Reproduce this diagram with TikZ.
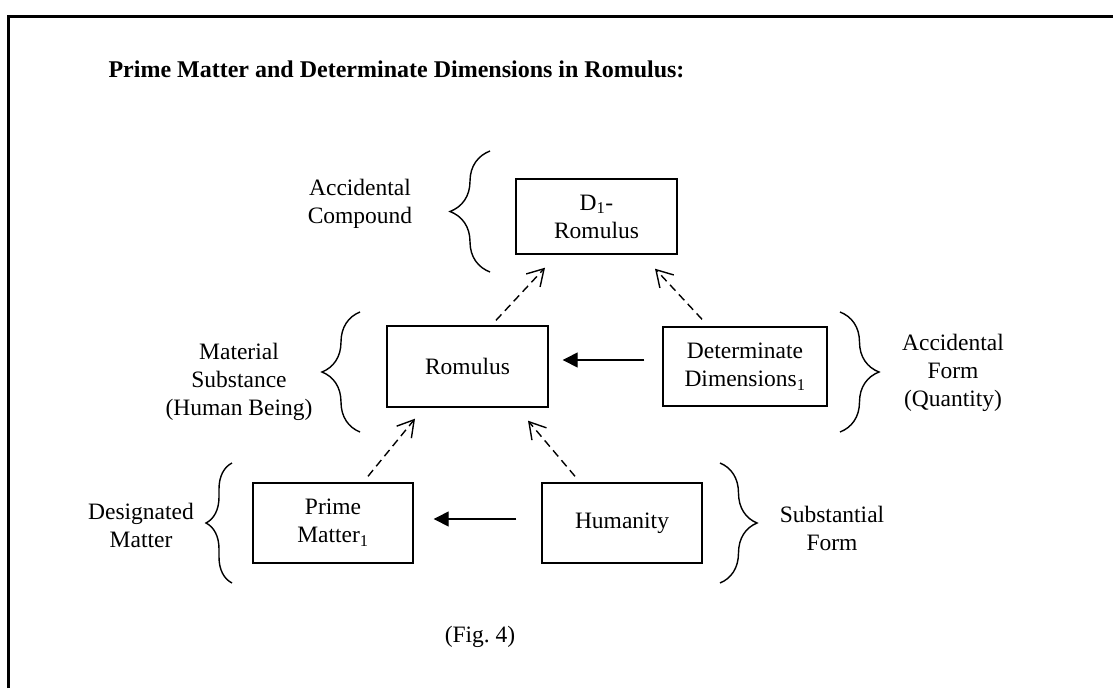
\documentclass[tikz,border=0pt]{standalone}
\usepackage{fontspec}
\setmainfont{Liberation Serif}
\usetikzlibrary{arrows.meta,positioning,decorations.pathreplacing}

\begin{document}
\begin{tikzpicture}[
  x=1pt,y=-1pt,
  every node/.style={font=\fontsize{23.5}{28}\selectfont},
  bnode/.style={draw,line width=1.4pt,minimum width=161pt,minimum height=80pt,
                align=center,inner sep=2pt},
  lnode/.style={align=center,inner sep=0pt},
  dasharrow/.style={-{Straight Barb[length=16pt,width=19pt,line width=1.4pt]},
                    line width=1.4pt,dash pattern=on 8pt off 5pt},
  solidarrow/.style={-{Triangle[length=15pt,width=15pt]},line width=1.4pt},
  cbrace/.style={decorate,decoration={brace,amplitude=#1},line width=1.4pt}
]
\useasboundingbox (0,0) rectangle (1113,688);

% ---- Frame ----
\draw[line width=2.8pt] (8.5,688) -- (8.5,16.5) -- (1113,16.5);

% ---- Title ----
\node[font=\fontsize{24}{28}\selectfont\bfseries,anchor=base west] (title) at (105,77)
  {Prime Matter and Determinate Dimensions in Romulus:};

% ---- Boxes ----
\node[bnode,minimum height=75pt] (d1) at (596.5,216.5) {D\textsubscript{1}-\\Romulus};
\node[bnode,minimum height=81pt] (rom) at (467.5,366.5) {Romulus};
\node[bnode,minimum width=164pt,minimum height=79pt] (det) at (745,366.5)
  {Determinate\\Dimensions\textsubscript{1}};
\node[bnode,minimum width=160pt] (pm)  at (333,523) {Prime\\Matter\textsubscript{1}};
\node[bnode,minimum width=160pt] (hum) at (622,523) {Humanity};

% ---- Labels ----
\node[lnode] (accomp)  at (360,204) {Accidental\\Compound};
\node[lnode] (matsub)  at (239,382) {Material\\Substance\\(Human Being)};
\node[lnode] (accform) at (953,373) {Accidental\\Form\\(Quantity)};
\node[lnode] (desmat)  at (141,525) {Designated\\Matter};
\node[lnode] (subform) at (832,528) {Substantial\\Form};
\node[lnode] (fig)     at (480,637) {(Fig.~4)};

% ---- Braces ----
\draw[cbrace=40pt] (490,272) -- (490,151);
\draw[cbrace=38pt] (360,432) -- (360,312);
\draw[cbrace=39pt] (840,312) -- (840,432);
\draw[cbrace=26pt] (232,583) -- (232,463);
\draw[cbrace=37pt] (720,463) -- (720,583);

% ---- Arrows ----
\draw[dasharrow] ([xshift=28.5pt,yshift=5pt]rom.north) -- ([xshift=-51.5pt,yshift=-13pt]d1.south);
\draw[dasharrow] ([xshift=-43pt,yshift=7pt]det.north) -- ([xshift=58.5pt,yshift=-14pt]d1.south);
\draw[dasharrow] ([xshift=35pt,yshift=6pt]pm.north) -- ([xshift=-52.5pt,yshift=-11pt]rom.south);
\draw[dasharrow] ([xshift=-47pt,yshift=6pt]hum.north) -- ([xshift=60.5pt,yshift=-13pt]rom.south);
\draw[solidarrow] ([xshift=-18pt,yshift=6.5pt]det.west) -- ([xshift=14pt,yshift=6.5pt]rom.east);
\draw[solidarrow] ([xshift=-25pt,yshift=4pt]hum.west) -- ([xshift=20pt,yshift=4pt]pm.east);

\end{tikzpicture}
\end{document}
